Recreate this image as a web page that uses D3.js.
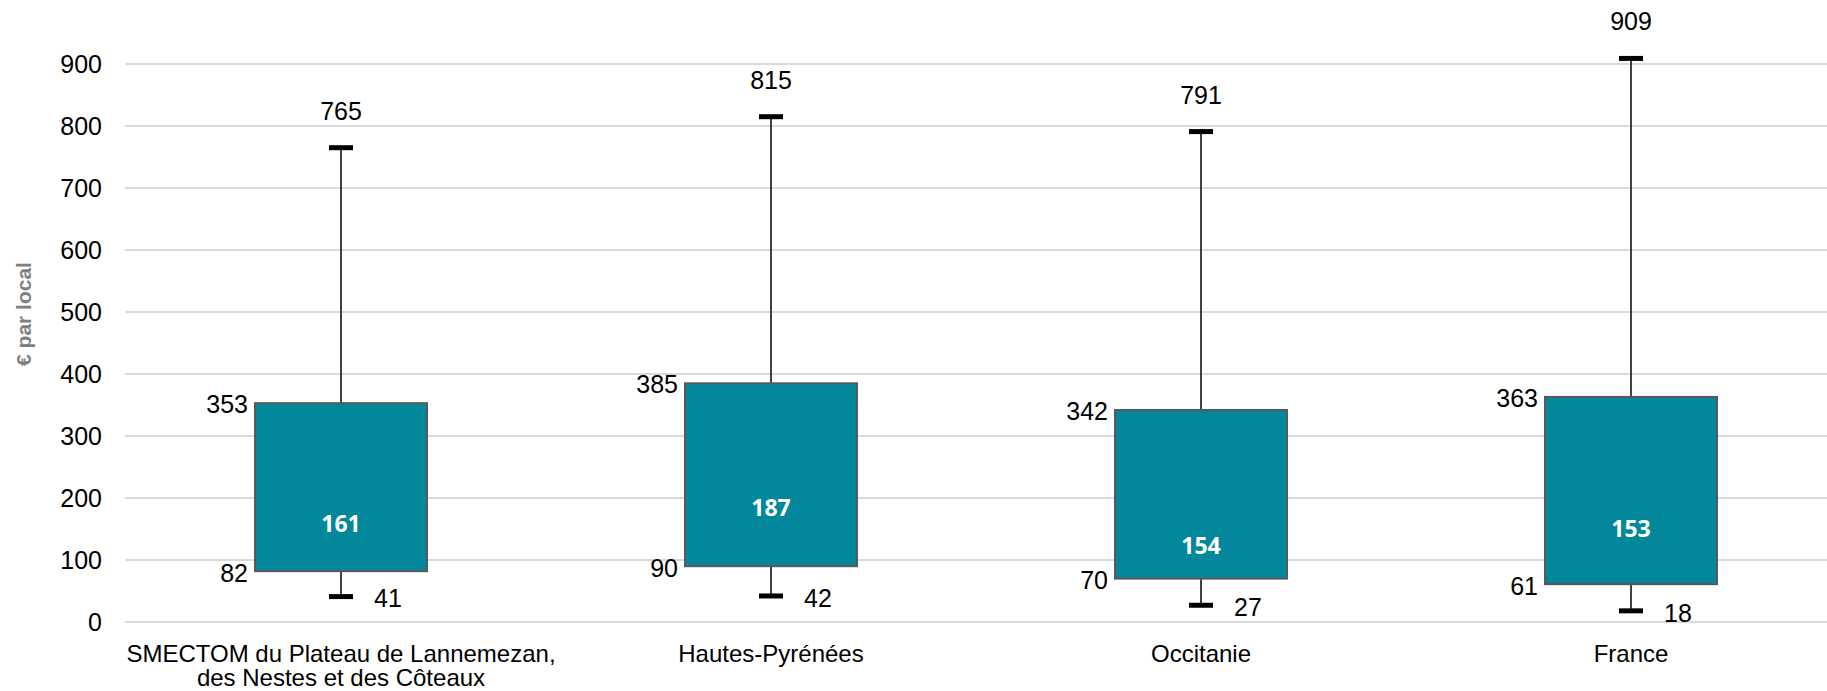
<!DOCTYPE html>
<html lang="fr">
<head>
<meta charset="utf-8">
<title>€ par local</title>
<script src="https://cdn.jsdelivr.net/npm/d3@7"></script>
<style>
  html, body { margin: 0; padding: 0; background: #fff; }
  svg { display: block; }
</style>
</head>
<body>
<svg id="chart" width="1827" height="691"></svg>
<script>
// Distribution of the amount per local unit (€), by territory
const categories = [
  ["SMECTOM du Plateau de Lannemezan,", "des Nestes et des Côteaux"],
  ["Hautes-Pyrénées"],
  ["Occitanie"],
  ["France"]
];
const minValues    = [41, 42, 27, 18];
const q1Values     = [82, 90, 70, 61];
const medianValues = [161, 187, 154, 153];
const q3Values     = [353, 385, 342, 363];
const maxValues    = [765, 815, 791, 909];
const yTicks = [0, 100, 200, 300, 400, 500, 600, 700, 800, 900];

const W = 1827, H = 691;
const svg = d3.select("#chart");
const keys = categories.map((c, i) => "c" + i);

const x = d3.scaleBand().domain(keys).range([126, 1846]);
const y = d3.scaleLinear().domain([0, 900]).range([622, 64]);

const textFont = "'Liberation Sans', Arial, sans-serif";
const boxFill = "#03879a";
const boxWidth = x.bandwidth() * 0.4;
const capWidth = 24;

// Y axis tick labels
const yAxis = d3.axisLeft(y).tickValues(yTicks).tickSize(0).tickPadding(0);
const gAxis = svg.append("g").attr("transform", "translate(102,0)").call(yAxis);
gAxis.select(".domain").remove();
gAxis.selectAll("text")
  .attr("font-family", textFont)
  .attr("font-size", 25)
  .attr("fill", "#000")
  .attr("x", 0)
  .attr("dy", "0.35em")
  .attr("text-anchor", "end");

// Horizontal gridlines
svg.append("g").selectAll("line").data(yTicks).join("line")
  .attr("x1", 125).attr("x2", W)
  .attr("y1", d => y(d)).attr("y2", d => y(d))
  .attr("stroke", "#d9d9d9").attr("stroke-width", 2);

// Y title
svg.append("text")
  .attr("transform", "translate(31,314) rotate(-90)")
  .attr("text-anchor", "middle")
  .attr("font-family", textFont)
  .attr("font-weight", "bold")
  .attr("font-size", 21)
  .attr("fill", "#7f7f7f")
  .text("€ par local");

// Category labels
const gCat = svg.append("g");
categories.forEach((lines, i) => {
  const cx = x(keys[i]) + x.bandwidth() / 2;
  const t = gCat.append("text")
    .attr("x", cx)
    .attr("y", 662)
    .attr("text-anchor", "middle")
    .attr("font-family", textFont)
    .attr("font-size", 24)
    .attr("fill", "#000");
  lines.forEach((ln, j) => {
    t.append("tspan")
      .attr("x", cx)
      .attr("dy", j === 0 ? 0 : 24)
      .text(ln);
  });
});

// Boxes and whiskers
const rows = keys.map((k, i) => ({
  key: k,
  min: minValues[i], q1: q1Values[i], med: medianValues[i],
  q3: q3Values[i], max: maxValues[i]
}));
// small vertical shift for the median label where it sits lower in the box
const medianLabelShift = { c2: 17 };

const g = svg.append("g").selectAll("g").data(rows).join("g")
  .attr("transform", d => `translate(${x(d.key) + x.bandwidth() / 2},0)`);

// whisker stems
g.append("line")
  .attr("x1", 0).attr("x2", 0)
  .attr("y1", d => y(d.max)).attr("y2", d => y(d.q3))
  .attr("stroke", "#404040").attr("stroke-width", 2);
g.append("line")
  .attr("x1", 0).attr("x2", 0)
  .attr("y1", d => y(d.q1)).attr("y2", d => y(d.min))
  .attr("stroke", "#404040").attr("stroke-width", 2);

// caps
g.append("line")
  .attr("x1", -capWidth / 2).attr("x2", capWidth / 2)
  .attr("y1", d => y(d.max)).attr("y2", d => y(d.max))
  .attr("stroke", "#000").attr("stroke-width", 5);
g.append("line")
  .attr("x1", -capWidth / 2).attr("x2", capWidth / 2)
  .attr("y1", d => y(d.min)).attr("y2", d => y(d.min))
  .attr("stroke", "#000").attr("stroke-width", 5);

// box
g.append("rect")
  .attr("x", -boxWidth / 2)
  .attr("width", boxWidth)
  .attr("y", d => y(d.q3))
  .attr("height", d => y(d.q1) - y(d.q3))
  .attr("fill", boxFill)
  .attr("stroke", "#595959").attr("stroke-width", 2);

// value labels
const label = sel => sel
  .attr("font-family", textFont)
  .attr("font-size", 25)
  .attr("fill", "#000");

g.append("text").call(label)
  .attr("x", 0).attr("y", d => y(d.max) - 28)
  .attr("text-anchor", "middle")
  .text(d => d.max);

g.append("text").call(label)
  .attr("x", capWidth / 2 + 21).attr("y", d => y(d.min) + 2)
  .attr("dy", "0.35em")
  .attr("text-anchor", "start")
  .text(d => d.min);

g.append("text").call(label)
  .attr("x", -boxWidth / 2 - 7).attr("y", d => y(d.q3) + 1)
  .attr("dy", "0.35em")
  .attr("text-anchor", "end")
  .text(d => d.q3);

g.append("text").call(label)
  .attr("x", -boxWidth / 2 - 7).attr("y", d => y(d.q1) + 2)
  .attr("dy", "0.35em")
  .attr("text-anchor", "end")
  .text(d => d.q1);

g.append("text")
  .attr("x", 0).attr("y", d => y(d.med) + 2 + (medianLabelShift[d.key] || 0))
  .attr("dy", "0.36em")
  .attr("text-anchor", "middle")
  .attr("font-family", "'Open Sans', 'Noto Sans', sans-serif")
  .attr("font-weight", 700)
  .attr("font-size", 23)
  .attr("fill", "#fff")
  .text(d => d.med);
</script>
</body>
</html>
